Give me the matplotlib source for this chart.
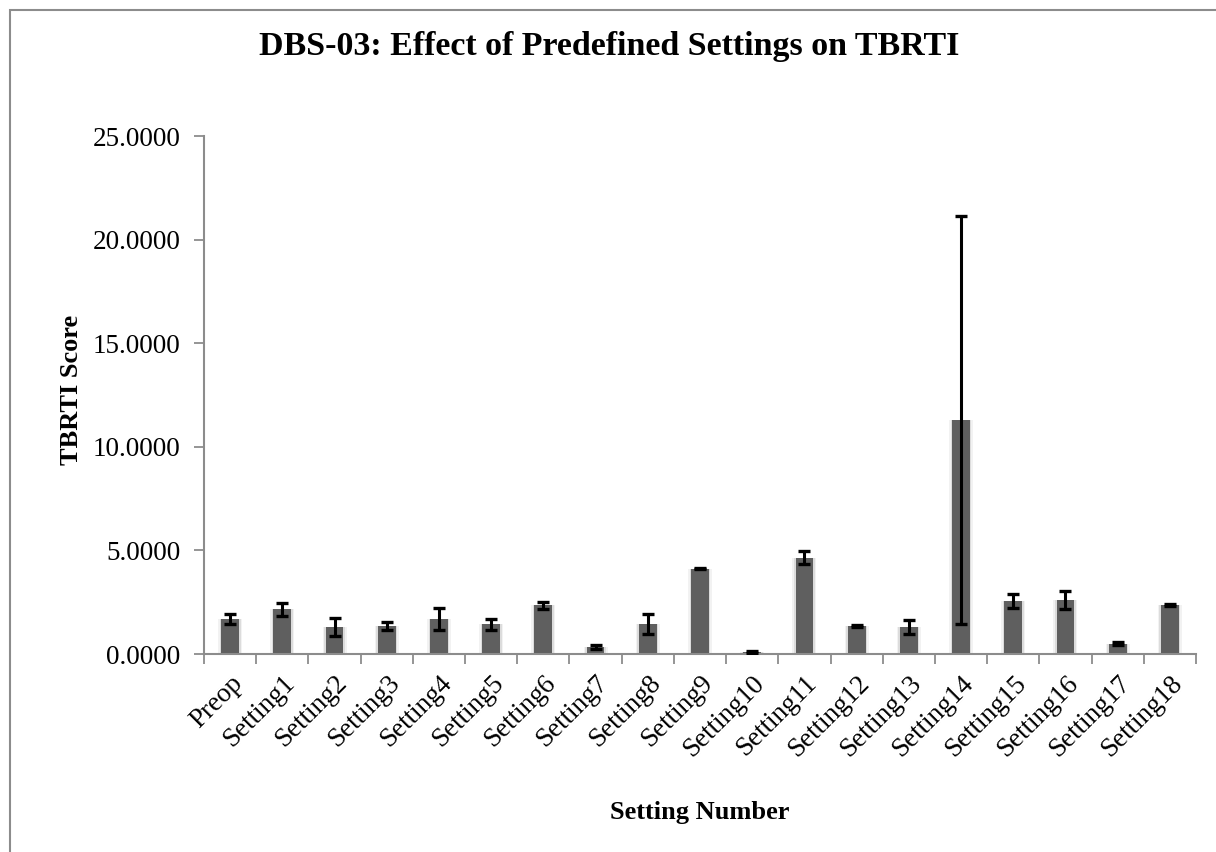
import numpy as np
import matplotlib
matplotlib.use('Agg')
import matplotlib.pyplot as plt
from matplotlib.patches import Rectangle
from matplotlib.ticker import FormatStrFormatter, FixedLocator

plt.rcParams['font.family'] = ['Liberation Serif', 'DejaVu Serif']

categories = ['Preop'] + ['Setting%d' % i for i in range(1, 19)]
means = [1.70, 2.15, 1.30, 1.35, 1.68, 1.43, 2.35, 0.35, 1.45, 4.12,
         0.10, 4.65, 1.35, 1.30, 11.30, 2.55, 2.60, 0.50, 2.37]
errs = [0.25, 0.32, 0.45, 0.20, 0.52, 0.25, 0.17, 0.10, 0.50, 0.04,
        0.04, 0.32, 0.04, 0.35, 9.85, 0.35, 0.42, 0.06, 0.06]

W, H = 1216, 852
fig = plt.figure(figsize=(W / 100, H / 100), dpi=100)
ax = fig.add_axes([204 / W, 1 - 654 / H, (1196 - 204) / W, (654 - 136) / H])

x = np.arange(len(categories))

# soft glow behind the bars
ax.bar(x, means, width=0.46, color='#f2f2f2', zorder=1)
ax.bar(x, means, width=0.40, color='#dcdcdc', zorder=1)
ax.bar(x, means, width=0.34, color='#5f5f5f', zorder=2)
ax.errorbar(x, means, yerr=errs, fmt='none', ecolor='black',
            elinewidth=2.2, capsize=4.5, capthick=2.4, zorder=3)

ax.set_xlim(-0.5, len(categories) - 0.5)
ax.set_ylim(0, 25)
ax.set_yticks([0, 5, 10, 15, 20, 25])
ax.yaxis.set_major_formatter(FormatStrFormatter('%.4f'))

ax.xaxis.set_major_locator(FixedLocator(np.arange(-0.5, len(categories), 1.0)))
ax.xaxis.set_minor_locator(FixedLocator(x))
ax.set_xticklabels([])
ax.set_xticklabels(categories, minor=True, rotation=45, ha='right',
                   rotation_mode='anchor')
ax.tick_params(axis='x', which='minor', length=0, pad=12, labelsize=19.5)
ax.tick_params(axis='x', which='major', length=7, width=1.3, color='#8c8c8c')
ax.tick_params(axis='y', length=7, width=1.3, color='#8c8c8c', labelsize=19.5, pad=10)

for s in ['top', 'right']:
    ax.spines[s].set_visible(False)
for s in ['left', 'bottom']:
    ax.spines[s].set_color('#8c8c8c')
    ax.spines[s].set_linewidth(1.5)

fig.text(609 / W, 1 - 47 / H, 'DBS-03: Effect of Predefined Settings on TBRTI',
         ha='center', va='center', fontsize=24.5, fontweight='bold')
fig.text(700 / W, 1 - 812 / H, 'Setting Number', ha='center', va='center',
         fontsize=19, fontweight='bold')
fig.text(72 / W, 1 - 390 / H, 'TBRTI Score', ha='center', va='center',
         rotation=90, fontsize=19, fontweight='bold')

fig.patches.append(Rectangle((10 / W, -0.1), 1.2, 1 - 10 / H + 0.1,
                             transform=fig.transFigure, fill=False,
                             edgecolor='#8c8c8c', linewidth=1.5))

fig.savefig('out.png', dpi=100)
